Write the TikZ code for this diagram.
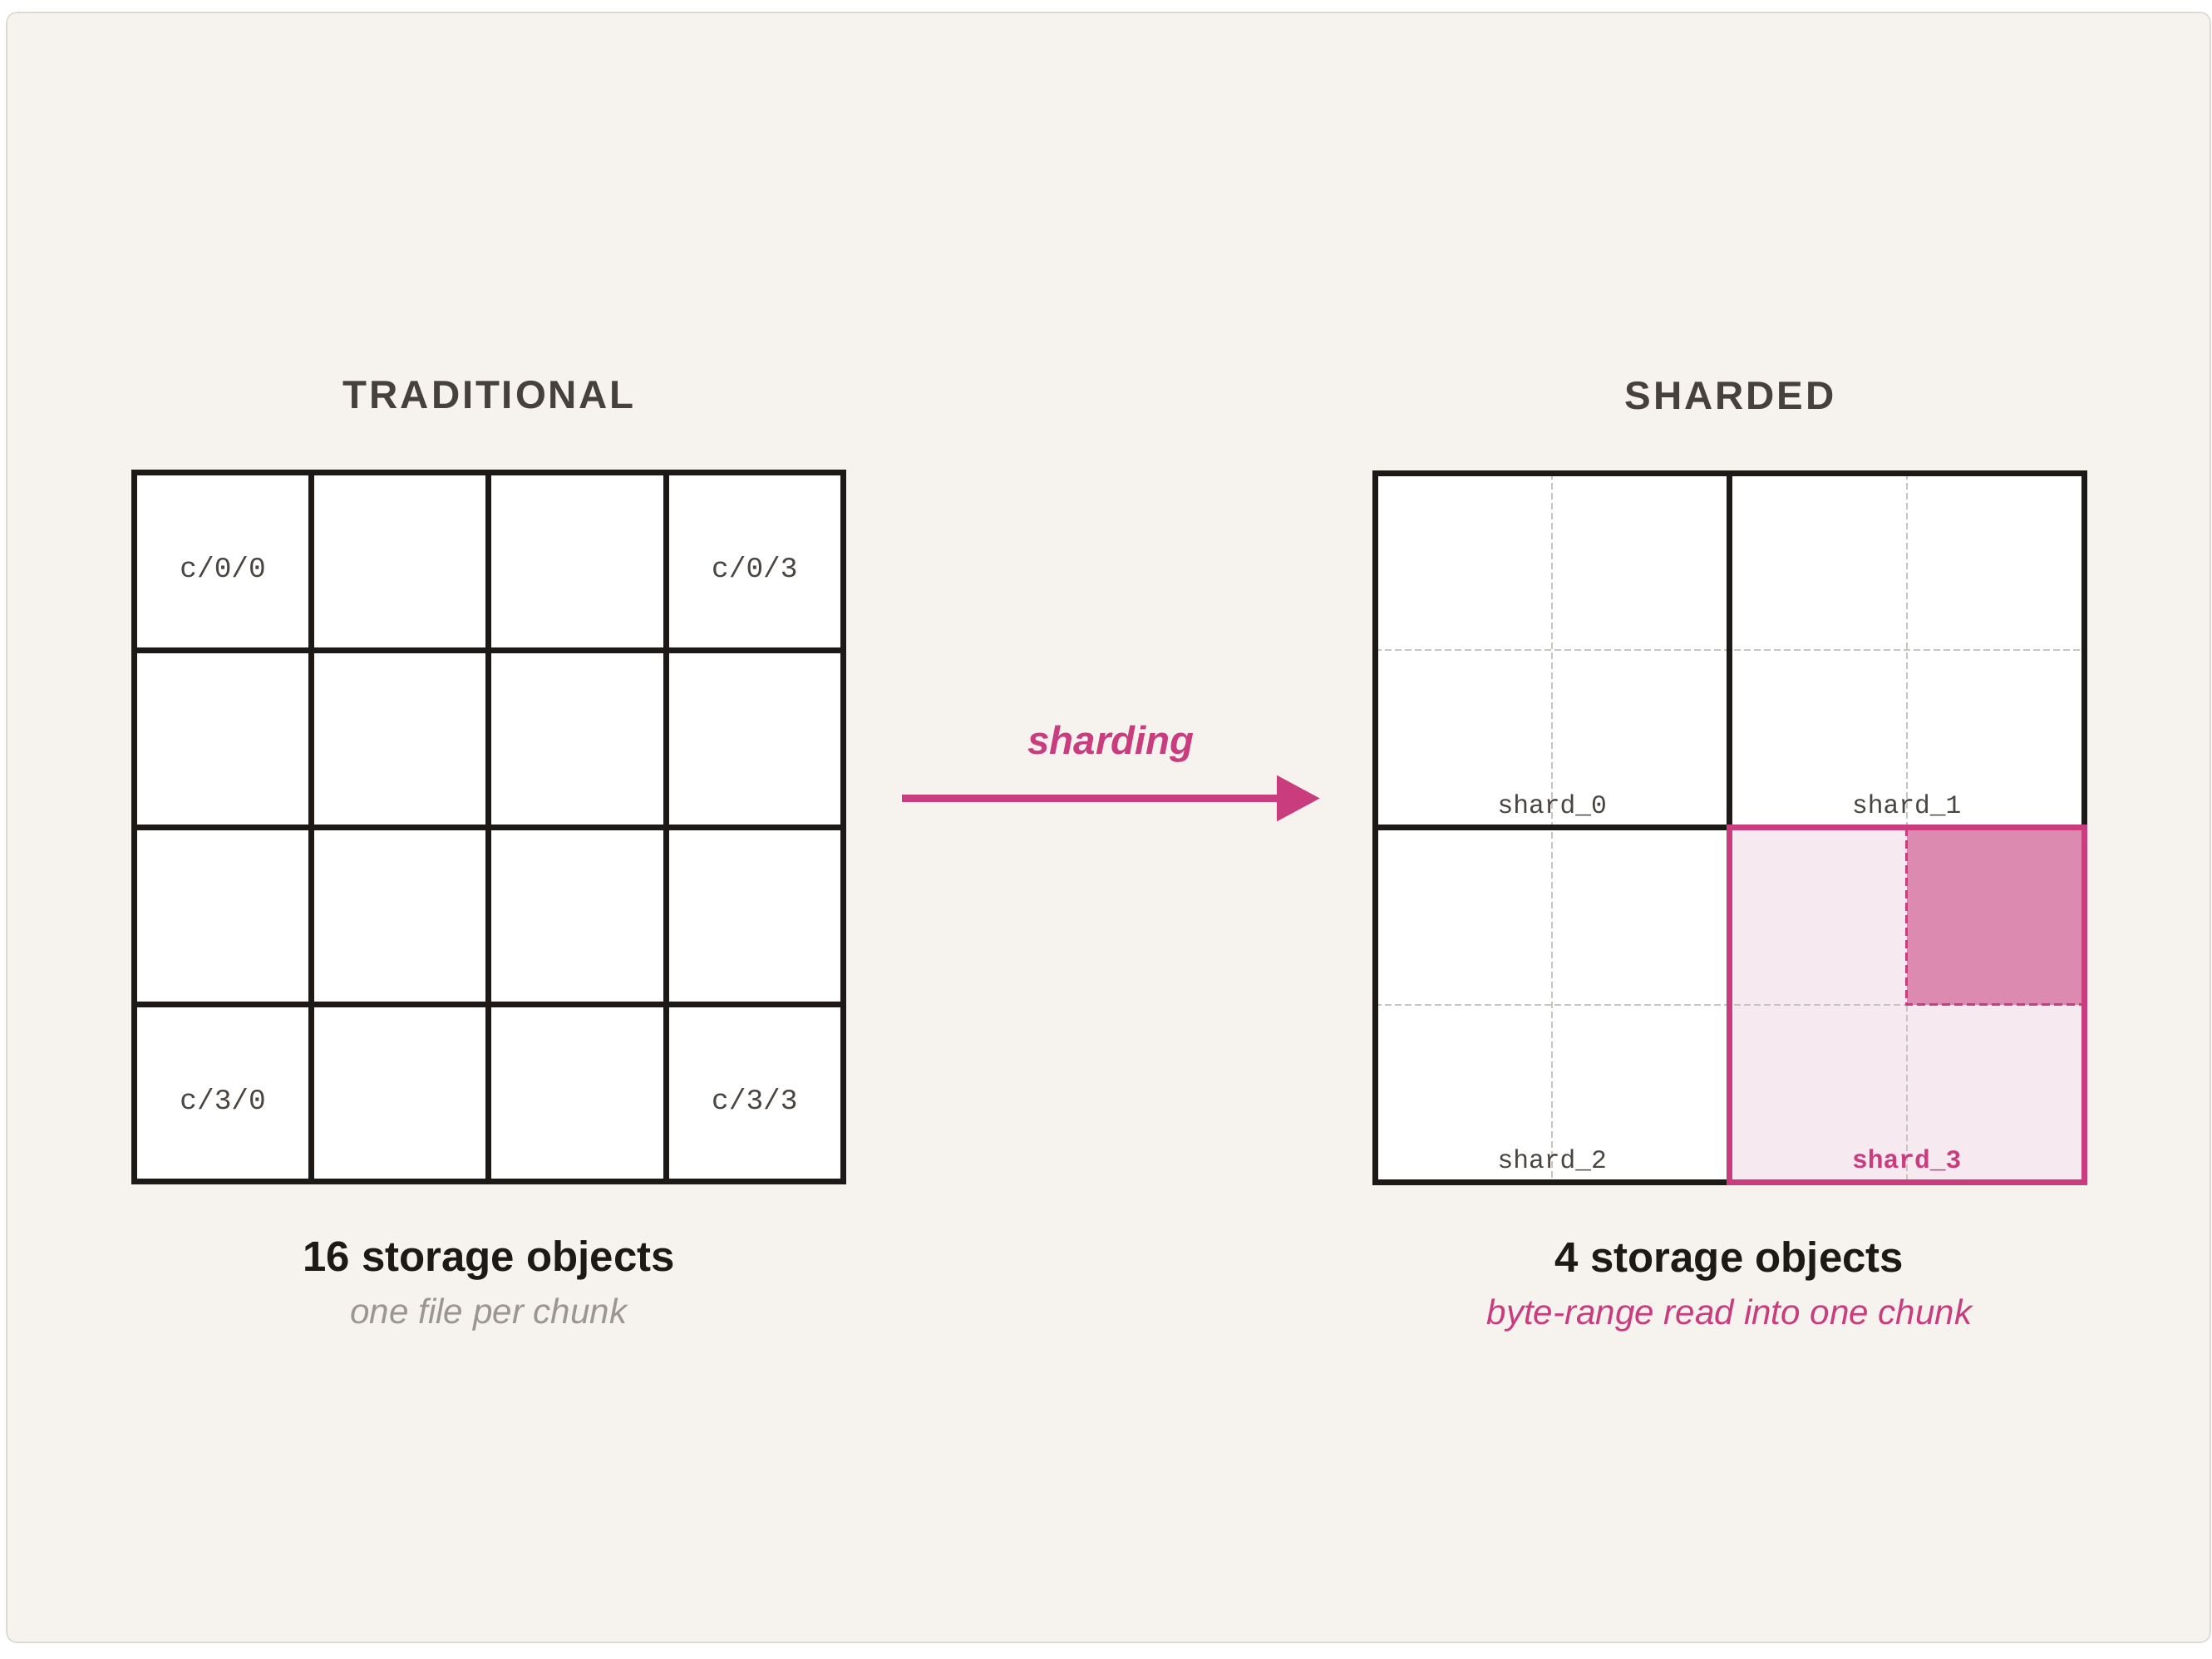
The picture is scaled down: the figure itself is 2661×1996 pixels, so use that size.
\documentclass[tikz,border=0pt]{standalone}
\usepackage{fontspec}
\setmainfont{Liberation Sans}
\setmonofont{Liberation Mono}
\usetikzlibrary{arrows.meta,positioning,calc}

\definecolor{paper}{HTML}{F6F3EE}
\definecolor{frameline}{HTML}{DDD9D3}
\definecolor{ink}{HTML}{1C1917}
\definecolor{heading}{HTML}{46413C}
\definecolor{muted}{HTML}{4A4541}
\definecolor{faint}{HTML}{9B968F}
\definecolor{accent}{HTML}{C93D7F}
\definecolor{accentbg}{HTML}{F7E9F0}
\definecolor{accenthot}{HTML}{DD8AB1}
\definecolor{guide}{HTML}{C8C4BF}

\begin{document}
\begin{tikzpicture}[
    x=0.1mm, y=-0.1mm,
    cell/.style={draw=ink, line width=0.7mm, fill=white, minimum size=21.325mm, inner sep=0pt, outer sep=0pt},
    shardbox/.style={cell, minimum size=42.65mm},
    chunklbl/.style={anchor=base, text=muted, font=\ttfamily\fontsize{9.8}{12}\selectfont},
    shardlbl/.style={anchor=base, text=muted, font=\ttfamily\fontsize{8.9}{11}\selectfont},
    head/.style={anchor=base, text=heading, font=\fontsize{13.5}{16}\selectfont\bfseries\addfontfeature{LetterSpace=6}},
    caption/.style={anchor=base, text=ink, font=\fontsize{14.5}{17}\selectfont\bfseries},
    subcap/.style={anchor=base, text=faint, font=\fontsize{12}{14}\selectfont\itshape},
    guideline/.style={draw=guide, line width=0.17mm, dash pattern=on 0.8mm off 0.4mm},
    hotline/.style={draw=accent, line width=0.28mm, dash pattern=on 1mm off 0.5mm},
    flow/.style={draw=accent, line width=0.9mm, -{Triangle[length=5.2mm, width=5.3mm]}},
  ]
  \useasboundingbox (0,0) rectangle (2661,1996);
  \draw[frameline, fill=paper, line width=0.45pt, rounded corners=1.2mm] (8,15) rectangle (2659,1976);

  % traditional: one object per chunk
  \foreach \r in {0,...,3}
    \foreach \c in {0,...,3}
      \node[cell] (c-\r-\c) at ({268.1+213.25*\c},{675.6+213.25*\r}) {};
  \node[chunklbl] at ([yshift=-1.9mm]c-0-0.center) {c/0/0};
  \node[chunklbl] at ([yshift=-1.9mm]c-0-3.center) {c/0/3};
  \node[chunklbl] at ([yshift=-1.9mm]c-3-0.center) {c/3/0};
  \node[chunklbl] at ([yshift=-1.9mm]c-3-3.center) {c/3/3};
  \node[head] (tradhead) at ([yshift=7.7mm]c-0-1.north east) {TRADITIONAL};
  \node[caption] (tradcap) at ([yshift=-10.8mm]c-3-1.south east) {16 storage objects};
  \node[subcap] at ([yshift=-17.1mm]c-3-1.south east) {one file per chunk};

  % sharded: four objects, chunks inside
  \foreach \r in {0,1}
    \foreach \c in {0,1}
      \node[shardbox] (s-\r-\c) at ({1867.25+426.5*\c},{782.25+426.5*\r}) {};
  \fill[accentbg] (s-1-1.north west) rectangle (s-1-1.south east);
  \fill[accenthot] (s-1-1.north) rectangle (s-1-1.east);
  \draw[guideline] (s-0-0.north) -- (s-1-0.south);
  \draw[guideline] (s-0-1.north) -- (s-0-1.south);
  \draw[guideline] (s-1-1.center) -- (s-1-1.south);
  \draw[guideline] (s-0-0.west) -- (s-0-1.east);
  \draw[guideline] (s-1-0.west) -- (s-1-1.center);
  \draw[hotline] (s-1-1.north) -- (s-1-1.center) -- (s-1-1.east);
  \draw[ink, line width=0.7mm] (s-0-0.north west) rectangle (s-1-1.south east);
  \draw[ink, line width=0.7mm] (s-0-0.north east) -- (s-1-0.south east);
  \draw[ink, line width=0.7mm] (s-0-0.south west) -- (s-0-1.south east);
  \draw[accent, line width=0.7mm] (s-1-1.north west) rectangle (s-1-1.south east);
  \node[shardlbl] at ([yshift=1.7mm]s-0-0.south) {shard\_0};
  \node[shardlbl] at ([yshift=1.7mm]s-0-1.south) {shard\_1};
  \node[shardlbl] at ([yshift=1.7mm]s-1-0.south) {shard\_2};
  \node[shardlbl, text=accent, font=\ttfamily\bfseries\fontsize{8.9}{11}\selectfont] at ([yshift=1.7mm]s-1-1.south) {shard\_3};
  \node[head] (shardhead) at ([yshift=7.7mm]s-0-0.north east) {SHARDED};
  \node[caption] (shardcap) at ([yshift=-10.8mm]s-1-0.south east) {4 storage objects};
  \node[subcap, text=accent] at ([yshift=-17.1mm]s-1-0.south east) {byte-range read into one chunk};

  \coordinate (arrowtail) at (1085,960.5);
  \coordinate (arrowtip) at (1588,960.5);
  \draw[flow] (arrowtail) -- node[anchor=base, yshift=5.35mm, text=accent, font=\fontsize{13.5}{16}\selectfont\bfseries\itshape] {sharding} (arrowtip);
\end{tikzpicture}
\end{document}
